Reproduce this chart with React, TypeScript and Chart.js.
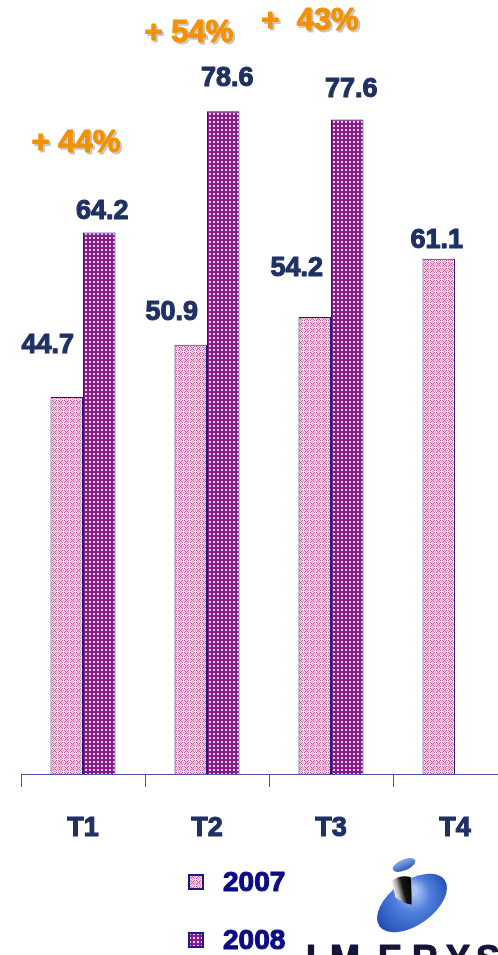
import React, { useEffect, useRef } from "react";
import { Chart, registerables } from "chart.js";

Chart.register(...registerables);

// ---- data ----
const categories = ["T1", "T2", "T3", "T4"];
const seriesNames = ["2007", "2008"];
const values2007 = [44.7, 50.9, 54.2, 61.1];
const values2008: (number | null)[] = [64.2, 78.6, 77.6, null];
const growthLabels = ["+ 44%", "+ 54%", "+  43%"];

// ---- layout / style constants (not data) ----
const W = 540;
const H = 955;
const labelColor = "#1f3163";
const legendColor = "#0b0b88";
const orange = "#f39200";
const axisColor = "#5050a4";
const FONT = "'Liberation Sans', Arial, sans-serif";
// per-label offsets from the bar's top centre [dx, dy]
const labelOffsets2007 = [[-19, -51], [-19, -32], [-18, -48], [-2, -18]];
const labelOffsets2008 = [[3, -21], [4, -33], [4, -30], [0, 0]];
// growth annotation placement: [dx from category centre, y in value units]
const growthPlacement = [[-7, 74.8], [-18, 87.8], [-21, 89.2]];

function makePattern2007(): CanvasPattern | string {
  const c = document.createElement("canvas");
  c.width = 6;
  c.height = 6;
  const ctx = c.getContext("2d");
  if (!ctx) return "#e0b0cc";
  ctx.fillStyle = "#eccbdc";
  ctx.fillRect(0, 0, 6, 6);
  ctx.fillStyle = "#c0609a";
  for (let x = 0; x < 6; x++) {
    for (let y = 0; y < 6; y++) {
      if ((x + y) % 6 === 0 || (x - y + 6) % 6 === 0) ctx.fillRect(x, y, 1, 1);
    }
  }
  ctx.fillStyle = "#d88cb6";
  ctx.fillRect(3, 0, 1, 1);
  ctx.fillRect(0, 3, 1, 1);
  ctx.fillStyle = "#fbf1f6";
  ctx.fillRect(3, 3, 1, 1);
  ctx.fillRect(2, 3, 1, 1);
  ctx.fillRect(4, 3, 1, 1);
  ctx.fillRect(3, 2, 1, 1);
  ctx.fillRect(3, 4, 1, 1);
  return ctx.createPattern(c, "repeat") || "#e0b0cc";
}

function makePattern2008(): CanvasPattern | string {
  const c = document.createElement("canvas");
  c.width = 4;
  c.height = 4;
  const ctx = c.getContext("2d");
  if (!ctx) return "#8a2a85";
  ctx.fillStyle = "#851d84";
  ctx.fillRect(0, 0, 4, 4);
  ctx.fillStyle = "#e9c9e8";
  ctx.fillRect(1, 1, 2, 2);
  return ctx.createPattern(c, "repeat") || "#8a2a85";
}

function heavyText(ctx: CanvasRenderingContext2D, t: string, x: number, y: number, color: string) {
  ctx.fillStyle = color;
  ctx.strokeStyle = color;
  ctx.lineWidth = 1.1;
  ctx.lineJoin = "round";
  ctx.strokeText(t, x, y);
  ctx.fillText(t, x, y);
}

const overlayPlugin = {
  id: "overlay",
  afterDatasetsDraw(chart: any) {
    const ctx: CanvasRenderingContext2D = chart.ctx;
    const xScale = chart.scales.x;
    const yScale = chart.scales.y;
    ctx.save();
    // value labels
    ctx.font = `bold 27px ${FONT}`;
    ctx.textAlign = "center";
    ctx.textBaseline = "middle";
    const offsets = [labelOffsets2007, labelOffsets2008];
    chart.data.datasets.forEach((ds: any, di: number) => {
      const meta = chart.getDatasetMeta(di);
      meta.data.forEach((bar: any, i: number) => {
        const v = ds.data[i];
        if (v === null || v === undefined) return;
        const [dx, dy] = offsets[di][i];
        heavyText(ctx, v.toFixed(1), bar.x + dx, bar.y + dy, labelColor);
      });
    });
    // growth annotations
    ctx.font = `bold 31px ${FONT}`;
    growthLabels.forEach((t, i) => {
      const [dx, v] = growthPlacement[i];
      const x = xScale.getPixelForValue(i) + dx;
      const y = yScale.getPixelForValue(v);
      heavyText(ctx, t, x + 2, y + 2, "rgba(185,185,185,0.75)");
      heavyText(ctx, t, x, y, orange);
    });
    ctx.restore();
  },
  afterDraw(chart: any) {
    const ctx: CanvasRenderingContext2D = chart.ctx;
    ctx.save();
    // legend
    const rows = [882, 940];
    chart.data.datasets.forEach((ds: any, di: number) => {
      const cy = rows[di];
      ctx.fillStyle = ds.backgroundColor;
      ctx.fillRect(188, cy - 8, 16, 16);
      ctx.strokeStyle = "#1a1a8c";
      ctx.lineWidth = 2;
      ctx.strokeRect(189, cy - 7, 14, 14);
      ctx.font = `bold 28px ${FONT}`;
      ctx.textAlign = "left";
      ctx.textBaseline = "middle";
      heavyText(ctx, ds.label, 223, cy + 1, legendColor);
    });

    // logo: big ellipse
    ctx.save();
    ctx.translate(412, 903);
    ctx.rotate(-0.62);
    const rg = ctx.createRadialGradient(8, -10, 4, 0, 0, 44);
    rg.addColorStop(0, "#a9c4f3");
    rg.addColorStop(0.35, "#4f7fdc");
    rg.addColorStop(0.8, "#2b57be");
    rg.addColorStop(1, "#1c3f94");
    ctx.fillStyle = rg;
    ctx.beginPath();
    ctx.ellipse(0, 0, 40, 22, 0, 0, Math.PI * 2);
    ctx.fill();
    ctx.restore();
    // stem of the "i"
    ctx.save();
    ctx.translate(404, 891);
    ctx.rotate(-0.25);
    const lg = ctx.createLinearGradient(-11, 0, 11, 0);
    lg.addColorStop(0, "#ffffff");
    lg.addColorStop(0.25, "#b0b0b0");
    lg.addColorStop(0.5, "#151515");
    lg.addColorStop(1, "#000000");
    ctx.fillStyle = lg;
    ctx.beginPath();
    ctx.moveTo(-9, -13);
    ctx.quadraticCurveTo(0, -17, 10, -12);
    ctx.quadraticCurveTo(7, 4, 4, 15);
    ctx.quadraticCurveTo(-4, 12, -10, 4);
    ctx.closePath();
    ctx.fill();
    ctx.restore();
    // dot of the "i"
    ctx.save();
    ctx.translate(404, 865);
    ctx.rotate(-0.4);
    const dg = ctx.createLinearGradient(0, -6, 0, 6);
    dg.addColorStop(0, "#8fb0ee");
    dg.addColorStop(1, "#2b55b8");
    ctx.fillStyle = dg;
    ctx.beginPath();
    ctx.ellipse(0, 0, 12, 5.5, 0, 0, Math.PI * 2);
    ctx.fill();
    ctx.restore();
    // logo text (mostly cut off by the page edge)
    ctx.font = `bold 36px ${FONT}`;
    ctx.textAlign = "left";
    ctx.textBaseline = "alphabetic";
    const letters = "IMERYS".split("");
    const lx = [306, 330, 378, 412, 446, 476];
    letters.forEach((ch, i) => heavyText(ctx, ch, lx[i], 971, "#14143a"));
    ctx.restore();
  },
};

export default function App() {
  const canvasRef = useRef<HTMLCanvasElement | null>(null);

  useEffect(() => {
    const canvas = canvasRef.current;
    if (!canvas) return;
    const chart = new Chart(canvas, {
      type: "bar",
      data: {
        labels: categories,
        datasets: [
          {
            label: seriesNames[0],
            data: values2007,
            backgroundColor: makePattern2007() as any,
            borderColor: "#1c1c8c",
            borderWidth: 1,
            barPercentage: 1,
            categoryPercentage: 0.524,
          },
          {
            label: seriesNames[1],
            data: values2008 as any,
            backgroundColor: makePattern2008() as any,
            borderColor: "#1c1c8c",
            borderWidth: 1,
            barPercentage: 1,
            categoryPercentage: 0.524,
          },
        ],
      },
      options: {
        animation: false,
        responsive: false,
        maintainAspectRatio: false,
        layout: { padding: { top: 15, left: 21, right: 23, bottom: 0 } },
        plugins: {
          legend: { display: false },
          tooltip: { enabled: false },
          title: { display: false },
        },
        scales: {
          x: {
            offset: true,
            grid: {
              display: true,
              drawOnChartArea: false,
              drawTicks: true,
              tickLength: 13,
              color: axisColor,
              offset: true,
            },
            border: { display: true, color: axisColor, width: 1 },
            ticks: {
              color: labelColor,
              textStrokeColor: labelColor,
              textStrokeWidth: 1.1,
              padding: 25,
              font: { family: FONT, size: 27, weight: "bold", lineHeight: 1.2 },
              maxRotation: 0,
            },
            afterFit: (scale: any) => {
              scale.height = 181;
            },
          },
          y: {
            display: false,
            min: 0,
            max: 90,
          },
        },
      },
      plugins: [overlayPlugin],
    });
    return () => chart.destroy();
  }, []);

  return (
    <div
      style={{
        position: "absolute",
        left: 0,
        top: 0,
        width: 498,
        height: 955,
        overflow: "hidden",
        background: "#ffffff",
      }}
    >
      <canvas ref={canvasRef} width={W} height={H} style={{ display: "block" }} />
    </div>
  );
}
